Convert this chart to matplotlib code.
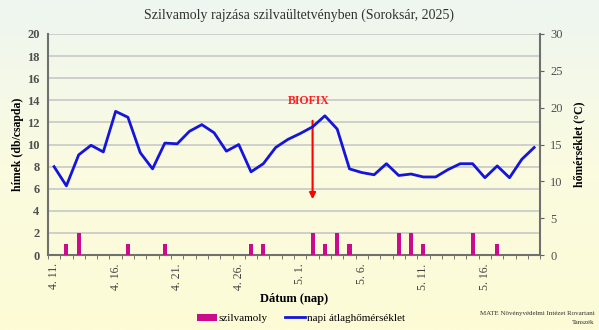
import numpy as np
import matplotlib
matplotlib.use("Agg")
import matplotlib.pyplot as plt
from matplotlib.colors import LinearSegmentedColormap

plt.rcParams['font.family'] = ['Liberation Serif', 'DejaVu Serif']

# napok 4.11 - 5.20
n_days = 40
tick_idx = [0, 5, 10, 15, 20, 25, 30, 35]
tick_labels = ["4. 11.", "4. 16.", "4. 21.", "4. 26.", "5. 1.", "5. 6.", "5. 11.", "5. 16."]

# szilvamoly fogás (db/csapda)
moth_days = [1, 2, 6, 9, 16, 17, 21, 22, 23, 24, 28, 29, 30, 34, 36]
moth_counts = [1, 2, 1, 1, 1, 1, 2, 1, 2, 1, 2, 2, 1, 2, 1]

# napi átlaghőmérséklet (°C)
temp = [12.0, 9.4, 13.6, 14.9, 14.0, 19.5, 18.7, 13.9, 11.7, 15.2,
        15.1, 16.8, 17.7, 16.6, 14.1, 15.0, 11.3, 12.4, 14.6, 15.7,
        16.5, 17.4, 18.9, 17.1, 11.7, 11.2, 10.9, 12.4, 10.8, 11.0,
        10.6, 10.6, 11.6, 12.4, 12.4, 10.5, 12.1, 10.5, 13.0, 14.6]

biofix_day = 21

fig = plt.figure(figsize=(5.99, 3.30), dpi=100)

# háttér színátmenet
bg = fig.add_axes([0, 0, 1, 1], zorder=-10)
cmap = LinearSegmentedColormap.from_list("bg", ["#eef6f0", "#fafbe0", "#fdfcd6"])
bg.imshow(np.linspace(0, 1, 256).reshape(-1, 1), aspect='auto', cmap=cmap,
          extent=[0, 1, 0, 1])
bg.axis('off')

ax = fig.add_axes([0.080, 0.227, 0.822, 0.670])
ax.patch.set_alpha(0)
x = np.arange(n_days)

ax.bar(moth_days, moth_counts, width=0.33, color="#cc0a8c", zorder=3, label="szilvamoly")
ax.set_xlim(-0.5, n_days - 0.5)
ax.set_ylim(0, 20)
ax.set_yticks(range(0, 21, 2))
ax.yaxis.grid(True, color="#c8c8c8", lw=1.2, zorder=0)
ax.set_axisbelow(True)
ax.tick_params(axis='y', length=0, labelsize=9, labelcolor="#505050", pad=6)
for t in ax.get_yticklabels():
    t.set_fontweight('bold')

ax.set_xticks(tick_idx)
ax.set_xticklabels(tick_labels, rotation=90, fontsize=8.5, color="#404040")
ax.tick_params(axis='x', length=0, pad=6)
ax.set_xticks(np.arange(-0.5, n_days, 1), minor=True)
ax.tick_params(axis='x', which='minor', length=3, color="#606060", direction='out')

ax.spines['top'].set_visible(False)
ax.spines['left'].set_color("#707070")
ax.spines['left'].set_linewidth(1.5)
ax.spines['bottom'].set_color("#707070")
ax.spines['bottom'].set_linewidth(1.5)
ax.spines['right'].set_visible(False)

ax.set_ylabel("hímek (db/csapda)", fontsize=8.5, fontweight='bold', labelpad=2)
ax.set_xlabel("Dátum (nap)", fontsize=9, fontweight='bold', labelpad=2)

ax2 = ax.twinx()
ax2.plot(x, temp, color="#1414dc", lw=2, zorder=4, label="napi átlaghőmérséklet")
ax2.set_ylim(0, 30)
ax2.set_yticks(range(0, 31, 5))
ax2.tick_params(axis='y', length=3, color="#606060", labelsize=9, labelcolor="#505050", pad=4)
ax2.spines['top'].set_visible(False)
ax2.spines['left'].set_visible(False)
ax2.spines['bottom'].set_visible(False)
ax2.spines['right'].set_color("#707070")
ax2.spines['right'].set_linewidth(1.5)
ax2.set_ylabel("hőmérséklet (°C)", fontsize=8.5, fontweight='bold', labelpad=8)

# BIOFIX jelölés
ax.annotate("", xy=(biofix_day, 4.8), xytext=(biofix_day, 12.4),
            arrowprops=dict(arrowstyle='-|>', color='red', lw=1.5, mutation_scale=9),
            zorder=5)
ax.text(biofix_day - 0.3, 13.9, "BIOFIX", color="#ff2020", fontsize=8.5,
        fontweight='bold', ha='center', va='center')

fig.suptitle("Szilvamoly rajzása szilvaültetvényben (Soroksár, 2025)",
             fontsize=10, color="#303030", y=0.975)

h1, l1 = ax.get_legend_handles_labels()
h2, l2 = ax2.get_legend_handles_labels()
fig.legend(h1 + h2, l1 + l2, loc='center', bbox_to_anchor=(0.502, 0.035), ncol=2,
           frameon=False, fontsize=8, handlelength=1.8, handletextpad=0.2,
           columnspacing=1.5)

fig.text(0.993, 0.05, "MATE Növényvédelmi Intézet Rovartani", fontsize=5,
         ha='right', va='center', color="#303030")
fig.text(0.993, 0.022, "Tanszék", fontsize=5, ha='right', va='center', color="#303030")

fig.savefig("out.png", dpi=100)
